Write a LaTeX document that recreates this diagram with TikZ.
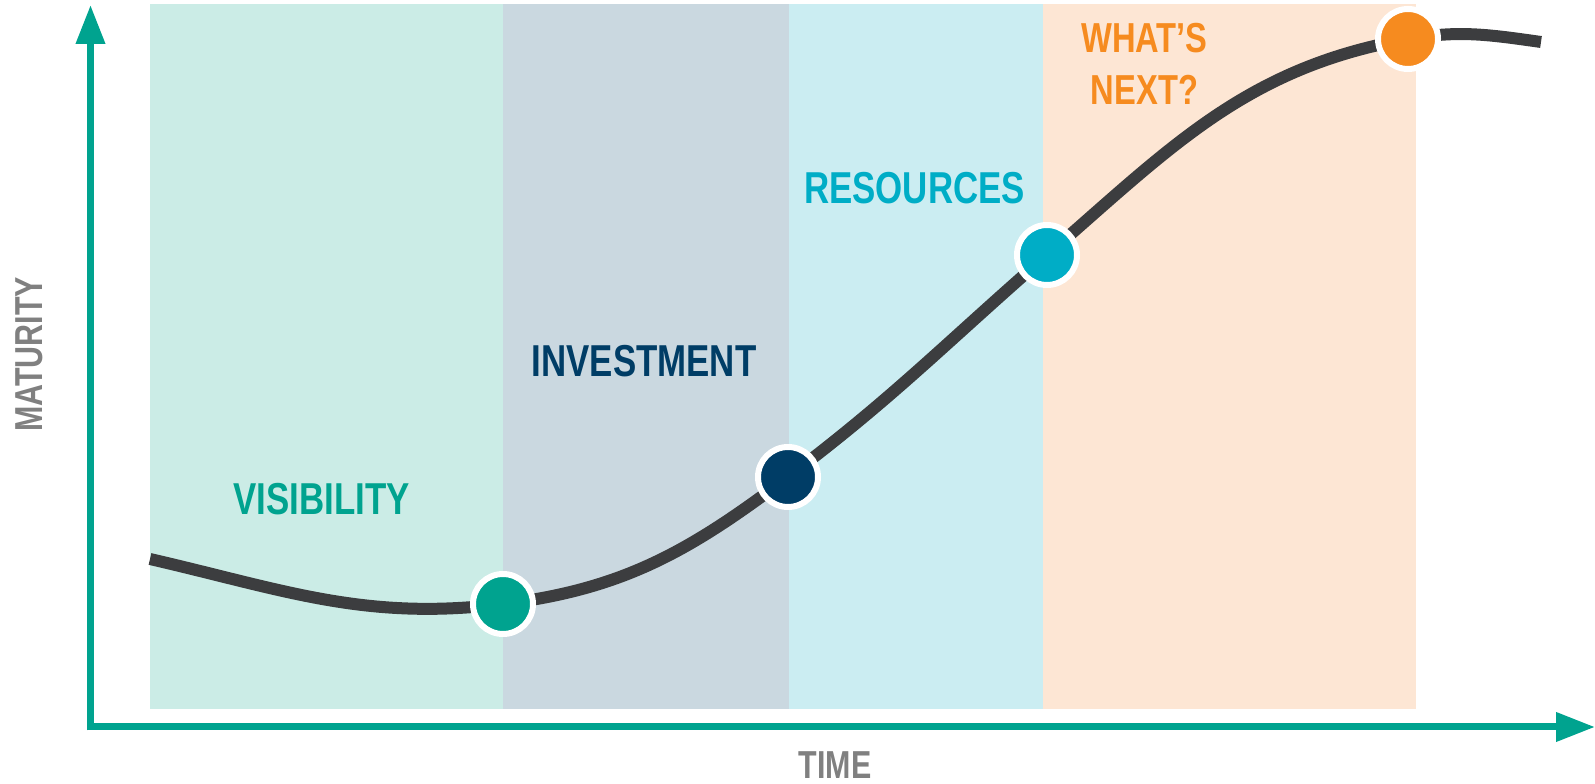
\documentclass[tikz,border=0pt]{standalone}
\usepackage{fontspec}
\newfontfamily\chartfont{Liberation Sans}[FakeStretch=0.78]
\usetikzlibrary{arrows.meta}
\definecolor{tealc}{HTML}{00A38F}
\definecolor{navyc}{HTML}{003D66}
\definecolor{cyanc}{HTML}{00ADC6}
\definecolor{orangec}{HTML}{F68B1F}
\definecolor{grayc}{HTML}{808080}
\definecolor{curvec}{HTML}{3C3D3F}
\definecolor{visbg}{HTML}{CBECE6}
\definecolor{invbg}{HTML}{CAD8E0}
\definecolor{resbg}{HTML}{CBEDF2}
\definecolor{nextbg}{HTML}{FDE6D4}
\tikzset{
  axis/.style={draw=tealc, line width=7pt, -{Triangle[length=39pt,width=28pt]}},
  dot/.style={circle, minimum size=60pt, inner sep=0pt, draw=white, line width=6pt},
  phase/.style={font=\chartfont\bfseries\fontsize{44.7}{52}\selectfont, inner sep=0pt},
  axislabel/.style={font=\chartfont\bfseries\fontsize{39}{46}\selectfont, text=grayc, inner sep=0pt},
}
\begin{document}
\begin{tikzpicture}[x=1pt,y=1pt]
 \useasboundingbox (0,0) rectangle (1595,784);
 % phase panels
 \fill[visbg] (150,75) rectangle (503,780);
 \fill[invbg] (503,75) rectangle (789,780);
 \fill[resbg] (789,75) rectangle (1043,780);
 \fill[nextbg] (1043,75) rectangle (1416,780);

 \coordinate (start) at (150,225);
 \coordinate (vis) at (503,180);
 \coordinate (inv) at (788,307);
 \coordinate (res) at (1047,529);
 \coordinate (nxt) at (1408,745);
 \coordinate (end) at (1541,742);

 \draw[curvec, line width=12pt]
   (start) to[out=-13,in=-173] (vis)
   to[out=7,in=-143] (inv)
   to[out=37,in=-139] (res)
   to[out=41,in=-170] (nxt)
   to[out=10,in=172] (end);

 \node[dot, fill=tealc] (visdot) at (vis) {};
 \node[dot, fill=navyc] (invdot) at (inv) {};
 \node[dot, fill=cyanc] (resdot) at (res) {};
 \node[dot, fill=orangec] (nxtdot) at (nxt) {};

 \node[phase, text=tealc] (vislabel) at (321.5,285) {VISIBILITY};
 \node[phase, text=navyc] (invlabel) at (644,423) {INVESTMENT};
 \node[phase, text=cyanc] (reslabel) at (914.5,596) {RESOURCES};
 \node[phase, text=orangec, align=center, font=\chartfont\bfseries\fontsize{41.9}{52}\selectfont] (nxtlabel) at (1144.5,720) {WHAT’S\\NEXT?};

 % axes
 \coordinate (origin) at (90.5,57);
 \coordinate (ytop) at (90.5,779);
 \coordinate (xend) at (1595,57);
 \draw[axis] ([yshift=-3.5pt]origin) -- (ytop);
 \draw[axis] ([xshift=-3.5pt]origin) -- (xend);
 \node[axislabel, rotate=90] (ylabel) at (29,429.5) {MATURITY};
 \node[axislabel] (xlabel) at (835,19) {TIME};
\end{tikzpicture}
\end{document}
